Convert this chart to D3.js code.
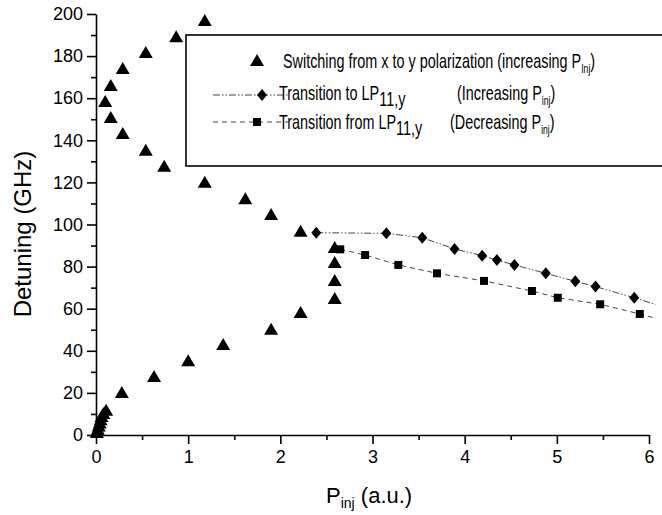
<!DOCTYPE html>
<html><head><meta charset="utf-8">
<script src="https://cdn.jsdelivr.net/npm/d3@7"></script>
<style>
body{margin:0;background:#fff;}
text{font-family:"Liberation Sans",Arial,Helvetica,sans-serif;fill:#000;}
</style></head>
<body><svg id="c" width="662" height="515"></svg>
<script>
// ---- data ----
const xTicks = [0,1,2,3,4,5,6];
const yTicks = [0,20,40,60,80,100,120,140,160,180,200];
// Switching from x to y polarization (triangles)
const triP = [0.01,0.02,0.03,0.04,0.05,0.06,0.08,0.11,0.28,0.63,1.0,1.38,1.9,2.22,2.59,2.59,2.59,2.59,2.22,1.9,1.62,1.18,0.74,0.54,0.29,0.16,0.10,0.16,0.29,0.54,0.87,1.18];
const triD = [1,2.5,4,5.5,7,8.5,10,11.5,20,27.6,35,42.7,50,58,64.6,73.2,81.7,88.8,96.6,104.5,112,119.8,127.4,135,143,150.6,158.2,165.8,173.9,181.5,189,196.7];
// Transition to LP11,y (diamonds)
const diaP = [2.39,3.15,3.54,3.89,4.19,4.35,4.54,4.88,5.20,5.42,5.84];
const diaD = [96.1,95.8,93.7,88.4,85.2,83.1,80.8,76.8,73.0,70.5,65.2];
const diaLineEnd = [6.07,62.0];
// Transition from LP11,y (squares)
const sqP = [2.65,2.92,3.28,3.70,4.21,4.73,5.01,5.47,5.90];
const sqD = [88.2,85.5,80.8,76.8,73.2,68.4,65.2,62.1,57.5];
const sqLineEnd = [6.07,55.5];

// ---- layout ----
const svg = d3.select("#c");
const x = d3.scaleLinear().domain([0,6]).range([96,649]);
const y = d3.scaleLinear().domain([0,200]).range([435,14]);

// axes
const gy = svg.append("g").attr("transform","translate(96,0)")
  .call(d3.axisLeft(y).tickValues(yTicks).tickSize(9).tickSizeOuter(0).tickPadding(4));
const gyMinor = svg.append("g").attr("transform","translate(96,0)")
  .call(d3.axisLeft(y).tickValues(d3.range(10,200,20)).tickSize(5).tickFormat(""));
const gx = svg.append("g").attr("transform","translate(0,435)")
  .call(d3.axisBottom(x).tickValues(xTicks).tickSize(9).tickSizeOuter(0).tickPadding(6).tickFormat(d3.format("d")));
const gxMinor = svg.append("g").attr("transform","translate(0,435)")
  .call(d3.axisBottom(x).tickValues(d3.range(0.5,6,1)).tickSize(5).tickFormat(""));
[gy,gyMinor,gx,gxMinor].forEach(g=>{
  g.selectAll("path.domain").attr("stroke","#000").attr("stroke-width",1.6);
  g.selectAll(".tick line").attr("stroke","#000").attr("stroke-width",1.6);
});
gyMinor.select("path.domain").remove();
gxMinor.select("path.domain").remove();
gy.selectAll(".tick text").style("font-size","18px").style("font-family","Liberation Sans, Arial, sans-serif").attr("fill","#000");
gx.selectAll(".tick text").style("font-size","18px").style("font-family","Liberation Sans, Arial, sans-serif").attr("fill","#000");

// axis titles
svg.append("text").attr("transform","translate(31,234) rotate(-90)").attr("text-anchor","middle")
  .style("font-size","24px").text("Detuning (GHz)");
const xt = svg.append("text").attr("x",326).attr("y",503).style("font-size","22px");
xt.append("tspan").text("P");
xt.append("tspan").attr("dy",5).style("font-size","14px").text("inj");
xt.append("tspan").attr("dy",-5).text(" (a.u.)");

// legend box
svg.append("rect").attr("x",186).attr("y",35).attr("width",520).attr("height",131)
  .attr("fill","#fff").attr("stroke","#000").attr("stroke-width",1.6);

// clip for plot
svg.append("clipPath").attr("id","clip").append("rect").attr("x",90).attr("y",0).attr("width",566).attr("height",440);
const plot = svg.append("g").attr("clip-path","url(#clip)");

const triPath = "M0,-7L7,5L-7,5Z";
const diaPath = "M0,-6L5,0L0,6L-5,0Z";
const sqPath = "M-4,-4H4V4H-4Z";

const line = d3.line().x(d=>x(d[0])).y(d=>y(d[1]));
const diaPts = diaP.map((p,i)=>[p,diaD[i]]);
const sqPts = sqP.map((p,i)=>[p,sqD[i]]);
plot.append("path").attr("d",line(diaPts.concat([diaLineEnd]))).attr("fill","none")
  .attr("stroke","#444").attr("stroke-width",1).attr("stroke-dasharray","7,2,1.5,2,1.5,2");
plot.append("path").attr("d",line(sqPts.concat([sqLineEnd]))).attr("fill","none")
  .attr("stroke","#444").attr("stroke-width",1).attr("stroke-dasharray","5,4");

plot.selectAll("path.tri").data(triP.map((p,i)=>[p,triD[i]])).join("path").attr("class","tri")
  .attr("d",triPath).attr("transform",d=>`translate(${x(d[0])},${y(d[1])})`).attr("fill","#000");
plot.selectAll("path.dia").data(diaPts).join("path").attr("class","dia")
  .attr("d",diaPath).attr("transform",d=>`translate(${x(d[0])},${y(d[1])})`).attr("fill","#000");
plot.selectAll("path.sq").data(sqPts).join("path").attr("class","sq")
  .attr("d",sqPath).attr("transform",d=>`translate(${x(d[0])},${y(d[1])})`).attr("fill","#000");

// legend entries
const lg = svg.append("g");
function ltext(px, py, parts){
  const t = lg.append("text").attr("transform",`translate(${px},${py}) scale(0.72,1)`).style("font-size","20px");
  parts.forEach(p=>{
    const ts = t.append("tspan").text(p.t);
    if(p.dy) ts.attr("dy",p.dy);
    if(p.fs) ts.style("font-size",p.fs+"px");
  });
  return t;
}
lg.append("path").attr("d",triPath).attr("transform","translate(257,61)");
ltext(283,68,[{t:"Switching from x to y polarization (increasing P"},{t:"Inj",dy:5,fs:12},{t:")",dy:-5}]);

lg.append("line").attr("x1",213).attr("x2",288).attr("y1",95).attr("y2",95).attr("stroke","#444").attr("stroke-dasharray","7,2,1.5,2,1.5,2");
lg.append("path").attr("d",diaPath).attr("transform","translate(262,95)");
ltext(279,100,[{t:"Transition to LP"},{t:"11,y",dy:6}]);
ltext(457,100,[{t:"(Increasing P"},{t:"inj",dy:5,fs:12},{t:")",dy:-5}]);

lg.append("line").attr("x1",213).attr("x2",288).attr("y1",122).attr("y2",122).attr("stroke","#444").attr("stroke-dasharray","5,4");
lg.append("path").attr("d",sqPath).attr("transform","translate(257,122)");
ltext(279,129,[{t:"Transition from LP"},{t:"11,y",dy:6}]);
ltext(450,129,[{t:"(Decreasing P"},{t:"inj",dy:5,fs:12},{t:")",dy:-5}]);
</script></body></html>
